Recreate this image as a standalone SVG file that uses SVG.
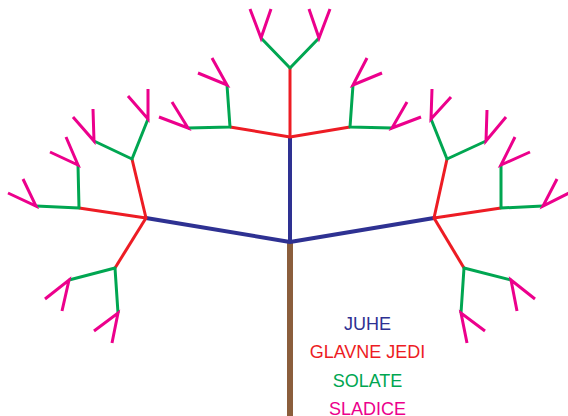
<svg xmlns="http://www.w3.org/2000/svg" width="568" height="416" viewBox="0 0 568 416">
<style>
.trunk{stroke:#8b5e3c;stroke-width:6;fill:none}
.soup{stroke:#2e3192;stroke-width:4;fill:none;stroke-linejoin:round}
.main{stroke:#ed1c24;stroke-width:3;fill:none;stroke-linejoin:round}
.salad{stroke:#00a651;stroke-width:3;fill:none;stroke-linejoin:round}
.dessert{stroke:#ec008c;stroke-width:3;fill:none;stroke-linejoin:miter}
text{font-family:"Liberation Sans",Arial,sans-serif;font-size:18px;text-anchor:middle}
</style>
<rect width="568" height="416" fill="#ffffff"/>
<g id="connectors">
<g id="trunk"><line class="trunk" x1="290" y1="242" x2="290" y2="416"/></g>
<g id="soups">
<polyline class="soup" points="146,218 290,242 434,218"/>
<line class="soup" x1="290" y1="137" x2="290" y2="242"/>
</g>
<g id="mains">
<line class="main" x1="290" y1="137" x2="290" y2="68"/>
<polyline class="main" points="230,127 290,137 350,127"/>
<polyline class="main" points="79,208 146,218 132,159"/>
<line class="main" x1="146" y1="218" x2="115" y2="268"/>
<polyline class="main" points="501,208 434,218 447,159"/>
<line class="main" x1="434" y1="218" x2="464" y2="268"/>
</g>
<g id="salads">
<polyline class="salad" points="261,38 290,68 319,38"/>
<polyline class="salad" points="188,128 230,127 227,85"/>
<polyline class="salad" points="392,128 350,127 353,85"/>
<polyline class="salad" points="36,206 79,208 78,165"/>
<polyline class="salad" points="94,141 132,159 148,119"/>
<polyline class="salad" points="69,280 115,268 118,313"/>
<polyline class="salad" points="543,206 501,208 501,165"/>
<polyline class="salad" points="431,119 447,159 486,141"/>
<polyline class="salad" points="511,280 464,268 461,313"/>
</g>
<g id="desserts">
<polyline class="dessert" points="250,9 261,38 271,9"/>
<polyline class="dessert" points="309,9 319,38 330,9"/>
<polyline class="dessert" points="159,117 188,128 172,102"/>
<polyline class="dessert" points="198,73 227,85 212,58"/>
<polyline class="dessert" points="407,102 392,128 421,117"/>
<polyline class="dessert" points="367,58 353,85 382,73"/>
<polyline class="dessert" points="8,193 36,206 23,179"/>
<polyline class="dessert" points="50,152 78,165 66,137"/>
<polyline class="dessert" points="73,117 94,141 93,109"/>
<polyline class="dessert" points="128,96 148,119 148,89"/>
<polyline class="dessert" points="45,299 69,280 62,311"/>
<polyline class="dessert" points="94,331 118,313 112,343"/>
<polyline class="dessert" points="557,179 543,206 569,193"/>
<polyline class="dessert" points="515,137 501,165 530,152"/>
<polyline class="dessert" points="432,89 431,119 451,97"/>
<polyline class="dessert" points="487,110 486,141 506,117"/>
<polyline class="dessert" points="535,299 511,280 517,311"/>
<polyline class="dessert" points="485,331 461,313 467,343"/>
</g>
</g>
<g id="legend">
<text x="367.5" y="330" fill="#2e3192">JUHE</text>
<text x="367.5" y="358" fill="#ed1c24">GLAVNE JEDI</text>
<text x="367.5" y="387" fill="#00a651">SOLATE</text>
<text x="367.5" y="415" fill="#ec008c">SLADICE</text>
</g>
</svg>
